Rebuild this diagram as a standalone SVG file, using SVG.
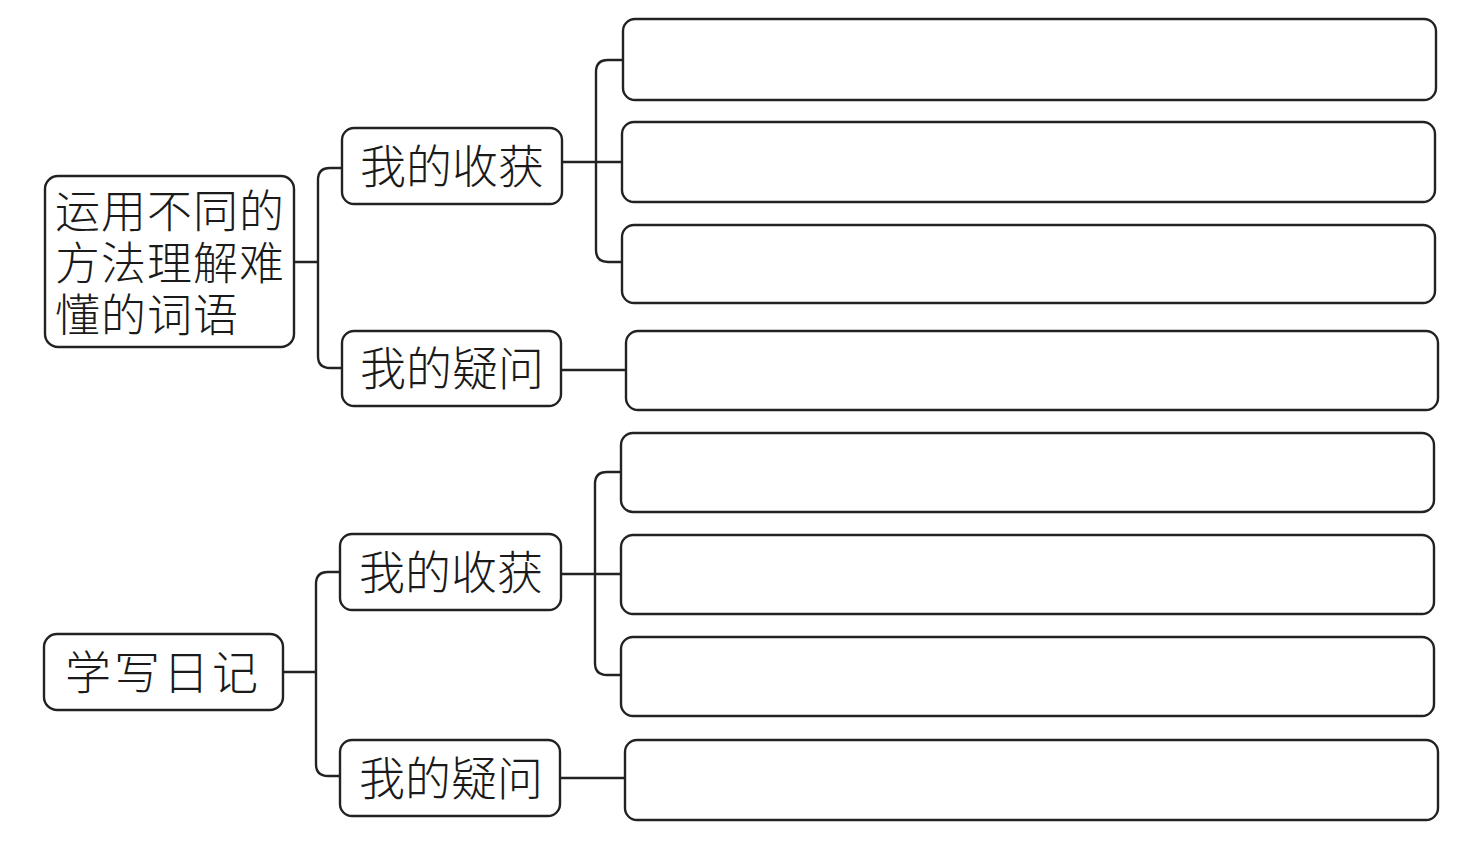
<svg xmlns="http://www.w3.org/2000/svg" width="1476" height="847" viewBox="0 0 1476 847">
<style>
.box{fill:#fff;stroke:#222;stroke-width:2.4}
.ln{fill:none;stroke:#222;stroke-width:2.4}
.t{font-family:"Noto Sans CJK SC","Noto Sans CJK TC",sans-serif;font-size:46px;fill:#1a1a1a;font-weight:300}
.r{font-size:45px;letter-spacing:1px}
</style>
<rect width="1476" height="847" fill="#fff"/>
<g id="connectors">
<path class="ln" d="M294 262 H318 M342 168 H330 Q318 168 318 180 V356 Q318 368 330 368 H342"/>
<path class="ln" d="M562 162 H622 M622 60 H608 Q596 60 596 72 V250 Q596 262 608 262 H622"/>
<path class="ln" d="M561 370 H626"/>
<path class="ln" d="M283 672 H316 M340 572 H328 Q316 572 316 584 V764 Q316 776 328 776 H340"/>
<path class="ln" d="M561 574 H621 M621 472 H607 Q595 472 595 484 V663 Q595 675 607 675 H621"/>
<path class="ln" d="M560 778 H625"/>
</g>
<g id="root1"><rect class="box" x="45" y="176" width="249" height="171" rx="13"/>
<text class="t r" x="55" y="228">运用不同的</text>
<text class="t r" x="55" y="280">方法理解难</text>
<text class="t r" x="55" y="332">懂的词语</text></g>
<g id="gain1"><rect class="box" x="342" y="128" width="220" height="76" rx="12"/>
<text class="t" x="452" y="183" text-anchor="middle">我的收获</text></g>
<g id="q1"><rect class="box" x="342" y="331" width="219" height="75" rx="12"/>
<text class="t" x="452" y="385" text-anchor="middle">我的疑问</text></g>
<g id="leaf1"><rect class="box" x="623" y="19" width="813" height="81" rx="12"/></g>
<g id="leaf2"><rect class="box" x="622" y="122" width="813" height="80" rx="12"/></g>
<g id="leaf3"><rect class="box" x="622" y="225" width="813" height="78" rx="12"/></g>
<g id="leaf4"><rect class="box" x="626" y="331" width="812" height="79" rx="12"/></g>
<g id="root2"><rect class="box" x="44" y="634" width="239" height="76" rx="13"/>
<text class="t" x="163" y="689" text-anchor="middle" letter-spacing="3">学写日记</text></g>
<g id="gain2"><rect class="box" x="340" y="534" width="221" height="76" rx="12"/>
<text class="t" x="451" y="589" text-anchor="middle">我的收获</text></g>
<g id="q2"><rect class="box" x="340" y="740" width="220" height="76" rx="12"/>
<text class="t" x="451" y="795" text-anchor="middle">我的疑问</text></g>
<g id="leaf5"><rect class="box" x="621" y="433" width="813" height="79" rx="12"/></g>
<g id="leaf6"><rect class="box" x="621" y="535" width="813" height="79" rx="12"/></g>
<g id="leaf7"><rect class="box" x="621" y="637" width="813" height="79" rx="12"/></g>
<g id="leaf8"><rect class="box" x="625" y="740" width="813" height="80" rx="12"/></g>
</svg>
